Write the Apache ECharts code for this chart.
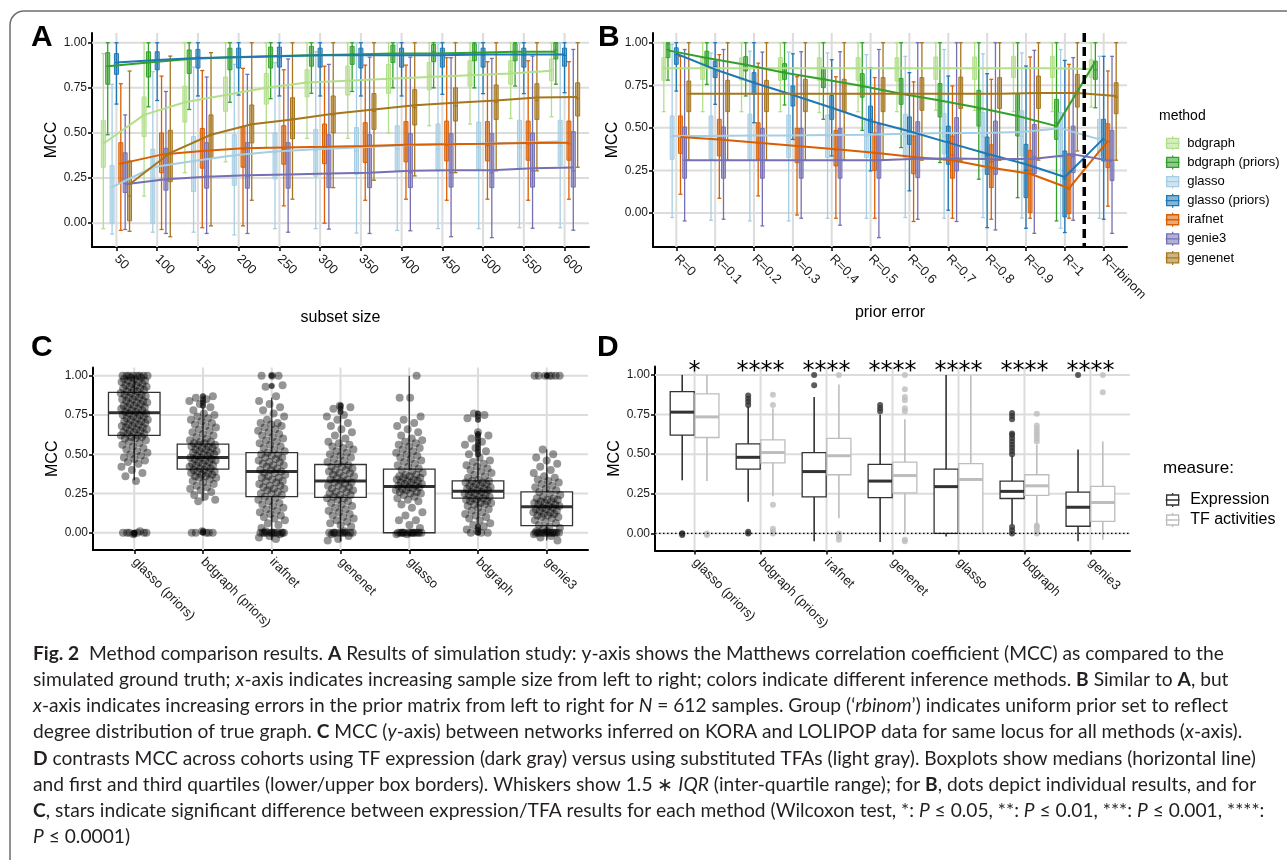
<!DOCTYPE html>
<html><head><meta charset="utf-8">
<script src="https://cdn.jsdelivr.net/npm/echarts@6.0.0/dist/echarts.min.js"></script>
<style>html,body{margin:0;padding:0;background:#fff}#chart{width:1287px;height:860px}</style>
</head><body><div id="chart"></div>
<script>
// ================= DATA =================
const methods = ['bdgraph','bdgraph (priors)','glasso','glasso (priors)','irafnet','genie3','genenet'];
const subsetSizes = ['50','100','150','200','250','300','350','400','450','500','550','600'];
const priorErrors = ['R=0','R=0.1','R=0.2','R=0.3','R=0.4','R=0.5','R=0.6','R=0.7','R=0.8','R=0.9','R=1','R=rbinom'];
const yTicks = [0, 0.25, 0.5, 0.75, 1];

// Panel A: [lower whisker, q1, median, q3, upper whisker] per subset size
const A_bdgraph = [[-0.03,0.31,0.45,0.57,0.94],[0.15,0.48,0.60,0.70,1],[0.28,0.56,0.67,0.76,1],[0.34,0.62,0.71,0.81,1],[0.42,0.66,0.75,0.83,1],[0.47,0.70,0.78,0.85,1],[0.47,0.71,0.79,0.87,1],[0.50,0.72,0.80,0.88,1],[0.54,0.74,0.82,0.89,1],[0.55,0.76,0.83,0.90,1],[0.58,0.77,0.84,0.90,1],[0.59,0.79,0.85,0.91,1]];
const A_bdgraphPriors = [[0.49,0.77,0.87,0.945,1],[0.645,0.81,0.89,0.95,1],[0.63,0.83,0.91,0.96,1],[0.67,0.85,0.92,0.97,1],[0.69,0.86,0.93,0.976,1],[0.72,0.87,0.93,0.98,1],[0.73,0.88,0.94,0.98,1],[0.75,0.89,0.94,0.987,1],[0.75,0.895,0.95,0.99,1],[0.75,0.90,0.95,0.994,1],[0.76,0.90,0.95,0.994,1],[0.77,0.91,0.96,1,1]];
const A_glasso = [[-0.06,0.0,0.20,0.32,0.77],[-0.05,0.0,0.30,0.41,0.84],[-0.05,0.175,0.34,0.48,0.865],[-0.065,0.21,0.37,0.49,0.88],[-0.03,0.245,0.39,0.50,0.89],[-0.03,0.26,0.40,0.52,0.95],[-0.055,0.27,0.40,0.53,1],[-0.04,0.29,0.41,0.54,1],[-0.03,0.29,0.41,0.55,1],[-0.03,0.30,0.42,0.56,1],[-0.025,0.31,0.42,0.57,1],[-0.025,0.32,0.43,0.57,1]];
const A_glassoPriors = [[0.66,0.825,0.89,0.94,1],[0.68,0.85,0.90,0.95,1],[0.705,0.86,0.92,0.963,1],[0.71,0.86,0.92,0.97,1],[0.705,0.865,0.92,0.976,1],[0.705,0.865,0.93,0.97,1],[0.705,0.86,0.93,0.97,1],[0.705,0.865,0.93,0.97,1],[0.714,0.865,0.93,0.97,1],[0.718,0.865,0.93,0.97,1],[0.718,0.865,0.93,0.97,1],[0.723,0.87,0.93,0.97,1]];
const A_irafnet = [[-0.04,0.225,0.33,0.446,0.773],[-0.035,0.28,0.38,0.50,0.815],[-0.025,0.305,0.40,0.525,0.846],[-0.015,0.31,0.41,0.535,0.858],[0.096,0.327,0.41,0.54,0.85],[0.0,0.33,0.42,0.55,0.87],[0.127,0.336,0.42,0.557,0.876],[0.133,0.34,0.43,0.563,0.876],[0.127,0.345,0.43,0.566,0.917],[0.133,0.345,0.43,0.563,0.895],[0.127,0.349,0.44,0.566,0.90],[0.133,0.349,0.44,0.566,0.895]];
const A_genie3 = [[-0.035,0.17,0.22,0.39,0.60],[-0.057,0.183,0.24,0.415,0.73],[-0.057,0.194,0.26,0.446,0.81],[-0.057,0.194,0.26,0.446,0.825],[-0.05,0.194,0.27,0.446,0.91],[-0.033,0.197,0.27,0.49,0.88],[-0.057,0.197,0.28,0.49,0.92],[-0.042,0.197,0.28,0.496,0.92],[-0.075,0.20,0.28,0.496,0.917],[-0.08,0.197,0.28,0.496,0.913],[-0.028,0.20,0.29,0.50,0.926],[-0.039,0.20,0.29,0.507,0.963]];
const A_genenet = [[-0.045,0.013,0.15,0.345,0.843],[-0.075,0.23,0.39,0.515,0.926],[-0.015,0.363,0.49,0.60,0.945],[0.127,0.445,0.55,0.655,1],[0.133,0.468,0.58,0.695,1],[0.197,0.50,0.60,0.705,1],[0.238,0.52,0.62,0.718,1],[0.262,0.544,0.64,0.74,1],[0.28,0.566,0.65,0.75,1],[0.29,0.575,0.67,0.766,1],[0.29,0.575,0.68,0.773,1],[0.31,0.594,0.69,0.778,1]];
// Panel A: trend (mean) per subset size
const A_mean_bdgraph = [0.44,0.60,0.67,0.71,0.75,0.78,0.79,0.80,0.81,0.82,0.83,0.845];
const A_mean_bdgraphPriors = [0.87,0.89,0.91,0.92,0.925,0.93,0.935,0.94,0.94,0.945,0.95,0.95];
const A_mean_glasso = [0.20,0.31,0.345,0.376,0.397,0.41,0.42,0.43,0.437,0.44,0.446,0.452];
const A_mean_glassoPriors = [0.89,0.905,0.915,0.92,0.925,0.93,0.93,0.93,0.93,0.935,0.935,0.935];
const A_mean_irafnet = [0.33,0.38,0.40,0.415,0.42,0.423,0.428,0.434,0.437,0.44,0.445,0.446];
const A_mean_genie3 = [0.216,0.243,0.258,0.265,0.27,0.275,0.28,0.29,0.293,0.293,0.305,0.308];
const A_mean_genenet = [0.216,0.39,0.49,0.548,0.575,0.607,0.63,0.653,0.668,0.68,0.696,0.70];

// Panel B: [lower whisker, q1, median, q3, upper whisker] per prior error
const B_bdgraph = [[0.595,0.779,0.85,0.912,1],[0.595,0.785,0.85,0.912,1],[0.595,0.78,0.85,0.91,1],[0.595,0.779,0.85,0.912,1],[0.59,0.779,0.85,0.912,1],[0.595,0.779,0.85,0.912,1],[0.595,0.775,0.85,0.912,1],[0.603,0.785,0.85,0.916,1],[0.603,0.785,0.85,0.916,1],[0.595,0.795,0.85,0.92,1],[0.595,0.795,0.85,0.92,1],[0.622,0.795,0.86,0.90,1]];
const B_bdgraphPriors = [[0.78,0.912,0.96,0.994,1],[0.755,0.863,0.91,0.95,1],[0.687,0.834,0.87,0.918,1],[0.634,0.785,0.83,0.877,1],[0.55,0.736,0.79,0.853,1],[0.485,0.68,0.74,0.818,1],[0.384,0.638,0.70,0.79,1],[0.296,0.564,0.66,0.76,1],[0.198,0.51,0.61,0.72,1],[0.09,0.452,0.57,0.697,1],[-0.047,0.432,0.53,0.667,1],[0.618,0.785,0.84,0.892,1]];
const B_glasso = [[-0.027,0.315,0.45,0.57,0.99],[-0.043,0.315,0.45,0.57,0.94],[-0.047,0.315,0.45,0.58,0.95],[-0.047,0.325,0.45,0.575,0.945],[-0.031,0.325,0.45,0.575,0.94],[-0.031,0.325,0.45,0.55,0.93],[-0.027,0.325,0.45,0.58,0.92],[-0.031,0.348,0.45,0.583,0.96],[-0.027,0.315,0.45,0.59,0.935],[-0.03,0.335,0.45,0.60,0.94],[-0.09,0.325,0.46,0.59,0.96],[-0.031,0.335,0.44,0.55,0.92]];
const B_glassoPriors = [[0.716,0.873,0.93,0.97,1],[0.638,0.795,0.86,0.892,1],[0.53,0.697,0.77,0.824,1],[0.432,0.628,0.70,0.746,0.935],[0.335,0.55,0.62,0.69,0.90],[0.247,0.472,0.55,0.628,0.853],[0.13,0.403,0.48,0.564,0.824],[0.016,0.286,0.42,0.51,0.804],[-0.086,0.227,0.34,0.446,0.818],[-0.09,0.09,0.25,0.403,0.863],[-0.115,-0.023,0.20,0.364,0.896],[-0.037,0.305,0.43,0.55,0.92]];
const B_irafnet = [[0.11,0.35,0.45,0.57,0.92],[0.086,0.335,0.44,0.55,0.93],[0.10,0.315,0.41,0.53,0.88],[-0.012,0.295,0.39,0.497,0.80],[-0.031,0.276,0.37,0.485,0.80],[-0.031,0.25,0.35,0.47,0.795],[-0.05,0.23,0.33,0.452,0.77],[-0.031,0.204,0.34,0.452,0.746],[-0.037,0.149,0.30,0.40,0.785],[-0.031,0.002,0.25,0.368,0.916],[-0.031,-0.004,0.14,0.348,0.873],[0.04,0.266,0.42,0.524,0.834]];
const B_genie3 = [[-0.047,0.204,0.31,0.505,0.96],[-0.037,0.204,0.31,0.505,0.96],[-0.076,0.204,0.31,0.497,0.945],[-0.031,0.204,0.31,0.497,0.947],[-0.072,0.204,0.31,0.497,0.947],[-0.145,0.204,0.31,0.52,0.96],[-0.037,0.207,0.32,0.536,1],[-0.05,0.247,0.32,0.56,1],[-0.10,0.227,0.31,0.54,1],[-0.12,0.23,0.33,0.52,0.955],[-0.043,0.237,0.33,0.51,0.912],[-0.12,0.19,0.31,0.485,0.92]];
const B_genenet = [[0.31,0.595,0.70,0.775,1],[0.31,0.595,0.70,0.779,1],[0.31,0.595,0.70,0.779,1],[0.31,0.595,0.70,0.785,1],[0.31,0.595,0.70,0.785,1],[0.31,0.595,0.70,0.795,1],[0.31,0.603,0.70,0.795,1],[0.31,0.614,0.70,0.798,1],[0.31,0.614,0.70,0.795,1],[0.31,0.614,0.70,0.804,1],[0.364,0.622,0.70,0.814,1],[0.31,0.583,0.68,0.765,1]];
// Panel B: trend (mean) per prior error
const B_mean_bdgraph = [0.85,0.85,0.85,0.85,0.85,0.85,0.85,0.85,0.85,0.85,0.85,0.845];
const B_mean_bdgraphPriors = [0.955,0.91,0.87,0.824,0.785,0.746,0.70,0.66,0.618,0.57,0.51,0.89];
const B_mean_glasso = [0.452,0.452,0.455,0.455,0.458,0.46,0.465,0.47,0.47,0.475,0.497,0.432];
const B_mean_glassoPriors = [0.935,0.843,0.765,0.693,0.618,0.54,0.48,0.413,0.348,0.286,0.211,0.438];
const B_mean_irafnet = [0.446,0.432,0.413,0.393,0.374,0.354,0.329,0.31,0.266,0.23,0.145,0.423];
const B_mean_genie3 = [0.31,0.31,0.31,0.31,0.31,0.31,0.318,0.32,0.316,0.318,0.344,0.305];
const B_mean_genenet = [0.70,0.70,0.70,0.70,0.70,0.70,0.70,0.70,0.70,0.705,0.705,0.687];

// Panels C & D
const cohortMethods = ['glasso (priors)','bdgraph (priors)','irafnet','genenet','glasso','bdgraph','genie3'];
const measures = ['Expression','TF activities'];
const statsExpr = [[0.335,0.62,0.765,0.895,1],[0.20,0.405,0.48,0.565,0.80],[-0.05,0.23,0.39,0.51,0.86],[-0.055,0.225,0.33,0.435,0.75],[-0.02,0.0,0.295,0.405,1],[0.055,0.22,0.265,0.33,0.49],[-0.05,0.045,0.165,0.26,0.53]];
const statsTF = [[0.33,0.605,0.735,0.88,1],[0.235,0.445,0.51,0.59,0.79],[0.095,0.37,0.49,0.60,0.94],[0.005,0.255,0.365,0.45,0.72],[0.0,0.0,0.34,0.44,1],[0.05,0.24,0.30,0.37,0.56],[-0.04,0.076,0.195,0.296,0.58]];
const outExpr = [[0,-0.01,0],[0.81,0.83,0.85,0.87,0.0,0.01],[0.935,1.0],[0.77,0.79,0.81],[],[0.50,0.52,0.54,0.56,0.58,0.60,0.62,0.63,0.72,0.74,0.76,0.0,0.02,0.04],[1.0]];
const outTF = [[-0.01,0],[0.81,0.875,0.18,0.03,0.01,0.0],[1.0,0.0,-0.02,-0.04],[0.77,0.79,0.84,0.86,0.91,1.0,-0.04,-0.05],[],[0.58,0.60,0.62,0.64,0.66,0.68,0.755,0.0,0.02,0.04,0.05],[0.89,1.0]];
const sigStars = ['*','****','****','****','****','****','****'];
// Panel C: individual MCC results per method (jittered dots)
const dots_glassoPriors = [0,0,0,-0.01,0,0.01,0,0,0.33,0.36,0.38,0.40,0.42,0.44,0.45,0.46,0.47,0.48,0.49,0.50,0.51,0.52,0.53,0.54,0.55,0.56,0.57,0.58,0.59,0.60,0.60,0.61,0.61,0.62,0.62,0.63,0.63,0.64,0.64,0.65,0.65,0.66,0.66,0.67,0.67,0.68,0.68,0.69,0.69,0.70,0.70,0.71,0.71,0.72,0.72,0.73,0.73,0.74,0.74,0.75,0.75,0.76,0.76,0.77,0.77,0.78,0.78,0.79,0.79,0.80,0.80,0.81,0.81,0.82,0.82,0.83,0.83,0.84,0.84,0.85,0.85,0.86,0.86,0.87,0.87,0.88,0.88,0.89,0.89,0.90,0.90,0.91,0.91,0.92,0.92,0.93,0.93,0.94,0.94,0.95,0.95,0.96,0.96,0.97,0.97,0.98,0.98,0.99,0.99,1,1,1,1,1,1,1,1];
const dots_bdgraphPriors = [0,0,0,0.01,0,0,0.20,0.21,0.23,0.24,0.26,0.27,0.28,0.29,0.30,0.31,0.32,0.33,0.34,0.35,0.35,0.36,0.36,0.37,0.37,0.38,0.38,0.39,0.39,0.40,0.40,0.41,0.41,0.42,0.42,0.43,0.43,0.44,0.44,0.45,0.45,0.46,0.46,0.47,0.47,0.48,0.48,0.49,0.49,0.50,0.50,0.51,0.51,0.52,0.52,0.53,0.53,0.54,0.54,0.55,0.55,0.56,0.56,0.57,0.57,0.58,0.58,0.59,0.60,0.61,0.62,0.63,0.64,0.65,0.66,0.67,0.68,0.69,0.70,0.71,0.72,0.73,0.74,0.75,0.76,0.78,0.80,0.82,0.84,0.85,0.86,0.87];
const dots_irafnet = [0,0,0,0,0,0,0,0,0,0,-0.01,-0.02,-0.03,-0.04,0.01,0,0,0.03,0.05,0.06,0.08,0.09,0.10,0.11,0.12,0.13,0.14,0.15,0.16,0.17,0.18,0.19,0.20,0.21,0.22,0.23,0.24,0.25,0.25,0.26,0.27,0.28,0.28,0.29,0.30,0.30,0.31,0.32,0.33,0.33,0.34,0.35,0.35,0.36,0.37,0.38,0.38,0.39,0.40,0.40,0.41,0.42,0.43,0.43,0.44,0.45,0.45,0.46,0.47,0.48,0.48,0.49,0.50,0.50,0.51,0.52,0.53,0.54,0.55,0.56,0.57,0.58,0.59,0.60,0.61,0.62,0.63,0.64,0.65,0.66,0.67,0.68,0.69,0.70,0.70,0.72,0.74,0.76,0.78,0.80,0.82,0.84,0.87,0.93,0.94,1,1,1];
const dots_genenet = [0,0,0,0,0,0,0,0,0,-0.01,-0.02,-0.04,-0.05,0.01,0,0.04,0.05,0.06,0.07,0.08,0.09,0.10,0.11,0.12,0.13,0.14,0.15,0.16,0.17,0.18,0.19,0.20,0.21,0.22,0.22,0.23,0.24,0.24,0.25,0.26,0.26,0.27,0.28,0.28,0.29,0.30,0.30,0.31,0.32,0.32,0.33,0.34,0.34,0.35,0.36,0.36,0.37,0.38,0.38,0.39,0.40,0.40,0.41,0.42,0.42,0.43,0.44,0.45,0.46,0.47,0.48,0.49,0.50,0.51,0.52,0.53,0.54,0.55,0.56,0.57,0.58,0.60,0.62,0.64,0.66,0.68,0.70,0.72,0.74,0.75,0.79,0.80,0.81];
const dots_glasso = [0,0,0,0,0,0,0,0,0,0,0,-0.01,-0.01,0,0,0.03,0.05,0.08,0.08,0.11,0.13,0.16,0.18,0.20,0.21,0.22,0.23,0.24,0.25,0.25,0.26,0.26,0.27,0.27,0.28,0.28,0.29,0.29,0.30,0.30,0.31,0.31,0.32,0.32,0.33,0.33,0.34,0.34,0.35,0.35,0.36,0.36,0.37,0.37,0.38,0.39,0.40,0.41,0.42,0.43,0.44,0.45,0.46,0.47,0.48,0.49,0.50,0.51,0.52,0.53,0.54,0.55,0.56,0.57,0.58,0.59,0.60,0.62,0.64,0.66,0.68,0.70,0.72,0.74,0.86,0.86,1];
const dots_bdgraph = [0,0,0,0.01,0.02,0.04,0.05,0.06,0.08,0.09,0.10,0.11,0.12,0.13,0.14,0.15,0.16,0.17,0.18,0.18,0.19,0.19,0.20,0.20,0.21,0.21,0.22,0.22,0.23,0.23,0.24,0.24,0.25,0.25,0.26,0.26,0.27,0.27,0.28,0.28,0.29,0.29,0.30,0.30,0.31,0.31,0.32,0.32,0.33,0.33,0.34,0.35,0.36,0.37,0.38,0.39,0.40,0.41,0.42,0.43,0.44,0.45,0.46,0.48,0.50,0.52,0.54,0.56,0.58,0.60,0.62,0.64,0.73,0.75,0.76];
const dots_genie3 = [0,0,0,0,0,0,0,0,0,0,0,0,-0.01,-0.02,-0.03,-0.05,0.01,0.01,0,0.02,0.03,0.04,0.05,0.06,0.07,0.08,0.09,0.10,0.10,0.11,0.11,0.12,0.12,0.13,0.13,0.14,0.14,0.15,0.15,0.16,0.16,0.17,0.17,0.18,0.18,0.19,0.19,0.20,0.20,0.21,0.21,0.22,0.22,0.23,0.24,0.25,0.26,0.27,0.28,0.29,0.30,0.31,0.32,0.33,0.34,0.35,0.36,0.38,0.40,0.42,0.44,0.46,0.48,0.50,0.53,1,1,1,1,1,1,1];

const captionLines = [
 '{b|Fig. 2}  Method comparison results. {b|A} Results of simulation study: y-axis shows the Matthews correlation coefficient (MCC) as compared to the',
 'simulated ground truth; {i|x}-axis indicates increasing sample size from left to right; colors indicate different inference methods. {b|B} Similar to {b|A}, but',
 '{i|x}-axis indicates increasing errors in the prior matrix from left to right for {i|N} = 612 samples. Group (\u2018{i|rbinom}\u2019) indicates uniform prior set to reflect',
 'degree distribution of true graph. {b|C} MCC ({i|y}-axis) between networks inferred on KORA and LOLIPOP data for same locus for all methods ({i|x}-axis).',
 '{b|D} contrasts MCC across cohorts using TF expression (dark gray) versus using substituted TFAs (light gray). Boxplots show medians (horizontal line)',
 'and first and third quartiles (lower/upper box borders). Whiskers show 1.5 \u2217 {i|IQR} (inter-quartile range); for {b|B}, dots depict individual results, and for',
 '{b|C}, stars indicate significant difference between expression/TFA results for each method (Wilcoxon test, *: {i|P} \u2264 0.05, **: {i|P} \u2264 0.01, ***: {i|P} \u2264 0.001, ****:',
 '{i|P} \u2264 0.0001)'
];

// ================= STYLE =================
const FONT = '"Liberation Sans", Arial, sans-serif';
const CAPFONT = 'Lato, "Open Sans", sans-serif';
const CAPSIZE = 19.2;
const methodColors = ['#B2DF8A','#33A02C','#A6CEE3','#1F78B4','#D95F02','#7570B3','#A6761D'];
const measureColors = ['#333333','#BDBDBD'];
const GRIDC = '#dcdcdc';
const KEY_ICON = 'path://M1,2H13V12H1Z M0,7H14 M7,0V2 M7,12V14';
function rgba(hex, a) { const n = parseInt(hex.slice(1), 16); return 'rgba(' + (n >> 16) + ',' + ((n >> 8) & 255) + ',' + (n & 255) + ',' + a + ')'; }

const statsA = [A_bdgraph, A_bdgraphPriors, A_glasso, A_glassoPriors, A_irafnet, A_genie3, A_genenet];
const meansA = [A_mean_bdgraph, A_mean_bdgraphPriors, A_mean_glasso, A_mean_glassoPriors, A_mean_irafnet, A_mean_genie3, A_mean_genenet];
const statsB = [B_bdgraph, B_bdgraphPriors, B_glasso, B_glassoPriors, B_irafnet, B_genie3, B_genenet];
const meansB = [B_mean_bdgraph, B_mean_bdgraphPriors, B_mean_glasso, B_mean_glassoPriors, B_mean_irafnet, B_mean_genie3, B_mean_genenet];
const dotsC = [dots_glassoPriors, dots_bdgraphPriors, dots_irafnet, dots_genenet, dots_glasso, dots_bdgraph, dots_genie3];

const DODGE = 0.75 / methods.length;

function boxSeries(name, stats, gi, offset, width, cfg) {
  return {
    type: 'custom', name: name, xAxisIndex: gi, yAxisIndex: gi, z: 3, silent: true,
    itemStyle: { color: cfg.fill, borderColor: cfg.stroke },
    data: stats.map((s, i) => [i + 1, s[0], s[1], s[2], s[3], s[4]]),
    encode: { x: 0, y: [1, 2, 3, 4, 5] },
    renderItem: function (params, api) {
      const xv = api.value(0) + offset;
      const c = k => api.coord([xv, api.value(k)]);
      const lo = c(1), q1 = c(2), md = c(3), q3 = c(4), hi = c(5);
      const w = api.size([width, 0])[0];
      const x = lo[0];
      const ch = [];
      ch.push({ type: 'line', shape: { x1: x, y1: hi[1], x2: x, y2: lo[1] }, style: { stroke: cfg.stroke, lineWidth: cfg.whisker } });
      if (cfg.caps) {
        ch.push({ type: 'line', shape: { x1: x - w / 2, y1: hi[1], x2: x + w / 2, y2: hi[1] }, style: { stroke: cfg.stroke, lineWidth: cfg.whisker } });
        ch.push({ type: 'line', shape: { x1: x - w / 2, y1: lo[1], x2: x + w / 2, y2: lo[1] }, style: { stroke: cfg.stroke, lineWidth: cfg.whisker } });
      }
      ch.push({ type: 'rect', shape: { x: x - w / 2, y: q3[1], width: w, height: Math.max(q1[1] - q3[1], 0.5) }, style: { fill: cfg.fill, stroke: cfg.stroke, lineWidth: cfg.boxLw } });
      ch.push({ type: 'line', shape: { x1: x - w / 2, y1: md[1], x2: x + w / 2, y2: md[1] }, style: { stroke: cfg.stroke, lineWidth: cfg.med } });
      return { type: 'group', children: ch };
    }
  };
}
function vGrid(gi, cats) {
  return { type: 'custom', xAxisIndex: gi, yAxisIndex: gi, z: 1, silent: true,
    data: cats.map((c, i) => [i + 1]), encode: { x: 0 },
    renderItem: function (p, api) { const pt = api.coord([api.value(0), 0]); const cs = p.coordSys;
      return { type: 'line', shape: { x1: pt[0], y1: cs.y, x2: pt[0], y2: cs.y + cs.height }, style: { stroke: GRIDC, lineWidth: 2 } }; } };
}
function hGrid(gi) {
  return { type: 'custom', xAxisIndex: gi, yAxisIndex: gi, z: 1, silent: true,
    data: yTicks.map(v => [1, v]), encode: { x: 0, y: 1 },
    renderItem: function (p, api) { const pt = api.coord([1, api.value(1)]); const cs = p.coordSys;
      return { type: 'line', shape: { x1: cs.x, y1: pt[1], x2: cs.x + cs.width, y2: pt[1] }, style: { stroke: GRIDC, lineWidth: 2 } }; } };
}
function xAxisCfg(gi, cats, fontSize, name, nameGap) {
  const vals = cats.map((c, i) => i + 1);
  return { type: 'value', gridIndex: gi, min: 0.4, max: cats.length + 0.6,
    name: name || '', nameLocation: 'middle', nameGap: nameGap || 0,
    nameTextStyle: { fontSize: 16, color: '#000', fontFamily: FONT },
    axisLine: { show: true, onZero: false, lineStyle: { color: '#000', width: 2 } },
    axisTick: { show: true, customValues: vals, length: 4, lineStyle: { color: '#000', width: 1.5 } },
    axisLabel: { customValues: vals, formatter: v => cats[Math.round(v) - 1] || '', rotate: -45, color: '#1a1a1a', fontSize: fontSize, fontFamily: FONT, margin: 10 },
    splitLine: { show: false } };
}
function yAxisCfg(gi, min, max) {
  return { type: 'value', gridIndex: gi, min: min, max: max,
    name: 'MCC', nameLocation: 'middle', nameGap: 32,
    nameTextStyle: { fontSize: 16, color: '#000', fontFamily: FONT },
    axisLine: { show: true, onZero: false, lineStyle: { color: '#000', width: 2 } },
    axisTick: { show: true, customValues: yTicks, length: 4, lineStyle: { color: '#000', width: 1.5 } },
    axisLabel: { customValues: yTicks, formatter: v => v.toFixed(2), color: '#1a1a1a', fontSize: 12, fontFamily: FONT, margin: 5 },
    splitLine: { show: false } };
}

const series = [];
[0, 1, 2, 3].forEach(g => series.push(hGrid(g)));
series.push(vGrid(0, subsetSizes), vGrid(1, priorErrors), vGrid(2, cohortMethods), vGrid(3, cohortMethods));

// Panels A and B: boxes then trend lines
[[0, statsA], [1, statsB]].forEach(([gi, st]) => {
  methods.forEach((m, k) => {
    const off = (k - (methods.length - 1) / 2) * DODGE;
    series.push(boxSeries(m, st[k], gi, off, DODGE * 0.92,
      { fill: rgba(methodColors[k], 0.55), stroke: methodColors[k], whisker: 1.3, boxLw: 1, med: 1.2, caps: true }));
  });
});
[[0, meansA], [1, meansB]].forEach(([gi, mn]) => {
  methods.forEach((m, k) => {
    const off = (k - (methods.length - 1) / 2) * DODGE;
    series.push({ type: 'line', name: m, xAxisIndex: gi, yAxisIndex: gi, z: 4, silent: true,
      data: mn[k].map((v, i) => [i + 1 + off, v]), symbol: 'none',
      lineStyle: { color: methodColors[k], width: 2 }, itemStyle: { color: methodColors[k] } });
  });
});
// B: dashed separator between R=1 and R=rbinom
series.push({ type: 'custom', xAxisIndex: 1, yAxisIndex: 1, z: 6, silent: true,
  data: [[(priorErrors.indexOf('R=1') + priorErrors.indexOf('R=rbinom')) / 2 + 1]], encode: { x: 0 },
  renderItem: function (p, api) { const pt = api.coord([api.value(0), 0]); const cs = p.coordSys;
    return { type: 'line', shape: { x1: pt[0], y1: cs.y, x2: pt[0], y2: cs.y + cs.height }, style: { stroke: '#000', lineWidth: 3.5, lineDash: [9, 5] } }; } });

// Panel C
series.push(boxSeries('C boxes', statsExpr, 2, 0, 0.75, { fill: '#fff', stroke: '#333', whisker: 1.3, boxLw: 1.3, med: 3, caps: false }));
series.push({ type: 'scatter', name: 'C outliers', xAxisIndex: 2, yAxisIndex: 2, z: 4, silent: true, symbolSize: 6,
  itemStyle: { color: '#222' }, data: outExpr.flatMap((arr, i) => arr.map(v => [i + 1, v])) });
const jit = j => ((((j + 1) * 0.6180339887) % 1) - 0.5) * 0.4;
series.push({ type: 'scatter', name: 'C dots', xAxisIndex: 2, yAxisIndex: 2, z: 5, silent: true, symbolSize: 8,
  itemStyle: { color: 'rgba(0,0,0,0.52)' }, data: dotsC.flatMap((arr, i) => arr.map((v, j) => [i + 1 + jit(j), v])) });

// Panel D
const DD = 0.375;
[statsExpr, statsTF].forEach((st, k) => {
  const off = (k - 0.5) * DD;
  series.push(boxSeries(measures[k], st, 3, off, DD * 0.97, { fill: '#fff', stroke: measureColors[k], whisker: 1.6, boxLw: 1.3, med: 3, caps: false }));
});
[outExpr, outTF].forEach((outs, k) => {
  const off = (k - 0.5) * DD;
  series.push({ type: 'scatter', name: measures[k] + ' outliers', xAxisIndex: 3, yAxisIndex: 3, z: 4, silent: true, symbolSize: 6,
    itemStyle: { color: measureColors[k] }, data: outs.flatMap((arr, i) => arr.map(v => [i + 1 + off, v])) });
});
series.push({ type: 'custom', xAxisIndex: 3, yAxisIndex: 3, z: 6, silent: true,
  data: [[1, 0]], encode: { x: 0, y: 1 },
  renderItem: function (p, api) { const pt = api.coord([1, api.value(1)]); const cs = p.coordSys;
    return { type: 'line', shape: { x1: cs.x, y1: pt[1], x2: cs.x + cs.width, y2: pt[1] }, style: { stroke: '#000', lineWidth: 1.2, lineDash: [1.5, 2.5] } }; } });
series.push({ type: 'custom', xAxisIndex: 3, yAxisIndex: 3, z: 6, silent: true,
  data: sigStars.map((s, i) => [i + 1]), encode: { x: 0 },
  renderItem: function (p, api) { const pt = api.coord([api.value(0), 0]); const cs = p.coordSys;
    return { type: 'text', x: pt[0], y: cs.y + 5, style: { text: sigStars[p.dataIndex], align: 'center', verticalAlign: 'middle', fontSize: 24, fontFamily: 'DejaVu Sans', fill: '#000' } }; } });

const RICH = {
  b: { fontWeight: 'bold', fontFamily: CAPFONT, fontSize: CAPSIZE, fill: '#231f20' },
  i: { fontStyle: 'italic', fontFamily: CAPFONT, fontSize: CAPSIZE, fill: '#231f20' }
};
const graphics = [
  { type: 'rect', z: -10, silent: true, shape: { x: 10, y: 11, width: 1320, height: 900, r: 14 }, style: { fill: 'none', stroke: '#6e6e6e', lineWidth: 1.5 } },
  { type: 'text', x: 31, y: 38, style: { text: 'A', fontSize: 30, fontWeight: 'bold', fontFamily: FONT, fill: '#000', verticalAlign: 'middle' } },
  { type: 'text', x: 598, y: 38, style: { text: 'B', fontSize: 30, fontWeight: 'bold', fontFamily: FONT, fill: '#000', verticalAlign: 'middle' } },
  { type: 'text', x: 31, y: 348, style: { text: 'C', fontSize: 30, fontWeight: 'bold', fontFamily: FONT, fill: '#000', verticalAlign: 'middle' } },
  { type: 'text', x: 597, y: 348, style: { text: 'D', fontSize: 30, fontWeight: 'bold', fontFamily: FONT, fill: '#000', verticalAlign: 'middle' } },
  { type: 'text', x: 1159, y: 116, style: { text: 'method', fontSize: 14, fontFamily: FONT, fill: '#000', verticalAlign: 'middle' } },
  { type: 'text', x: 1163, y: 468, style: { text: 'measure:', fontSize: 17, fontFamily: FONT, fill: '#000', verticalAlign: 'middle' } }
].concat(captionLines.map((t, k) => ({ type: 'text', x: 33, y: 654 + k * 26.1,
  style: { text: t, rich: RICH, fontFamily: CAPFONT, fontSize: CAPSIZE, fill: '#231f20', verticalAlign: 'middle' } })));

const option = {
  animation: false,
  backgroundColor: '#fff',
  textStyle: { fontFamily: FONT },
  grid: [
    { left: 92, top: 33, width: 497, height: 214 },
    { left: 653, top: 33, width: 474, height: 214 },
    { left: 93, top: 367.5, width: 495, height: 182.5 },
    { left: 655, top: 366.5, width: 475, height: 184 }
  ],
  xAxis: [
    xAxisCfg(0, subsetSizes, 13, 'subset size', 63),
    xAxisCfg(1, priorErrors, 13, 'prior error', 55),
    xAxisCfg(2, cohortMethods, 13),
    xAxisCfg(3, cohortMethods, 13)
  ],
  yAxis: [yAxisCfg(0, -0.132, 1.054), yAxisCfg(1, -0.2, 1.057), yAxisCfg(2, -0.11, 1.053), yAxisCfg(3, -0.108, 1.053)],
  legend: [
    { data: methods, orient: 'vertical', left: 1160, top: 130.7, itemWidth: 19, itemHeight: 14, itemGap: 3.8, icon: KEY_ICON,
      selectedMode: false, textStyle: { fontSize: 13, color: '#000', fontFamily: FONT }, itemStyle: { borderWidth: 1.3 } },
    { data: measures, orient: 'vertical', left: 1160, top: 487, itemWidth: 25, itemHeight: 14, itemGap: 4, icon: KEY_ICON,
      selectedMode: false, textStyle: { fontSize: 16, color: '#000', fontFamily: FONT }, itemStyle: { borderWidth: 1.3 } }
  ],
  graphic: graphics,
  series: series
};
const chart = echarts.init(document.getElementById('chart'), null, { renderer: 'canvas' });
chart.setOption(option);
</script></body></html>
